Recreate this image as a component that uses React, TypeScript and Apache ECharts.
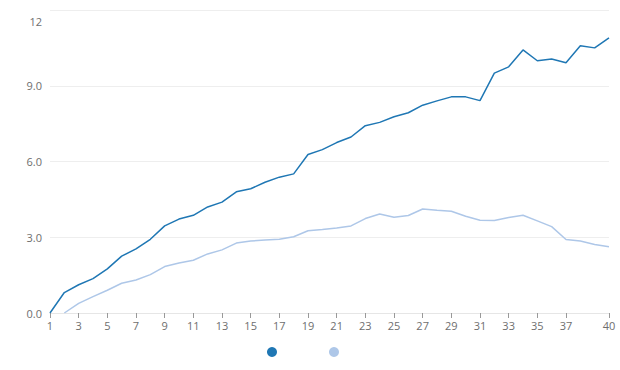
import React, { useEffect, useRef } from "react";
import * as echarts from "echarts";

const categories = [
  "1", "2", "3", "4", "5", "6", "7", "8", "9", "10",
  "11", "12", "13", "14", "15", "16", "17", "18", "19", "20",
  "21", "22", "23", "24", "25", "26", "27", "28", "29", "30",
  "31", "32", "33", "34", "35", "36", "37", "38", "39", "40",
];

const seriesA = [
  0, 0.81, 1.12, 1.36, 1.75, 2.25, 2.54, 2.92, 3.45, 3.72,
  3.87, 4.2, 4.39, 4.8, 4.92, 5.18, 5.38, 5.51, 6.28, 6.47,
  6.75, 6.97, 7.42, 7.55, 7.77, 7.93, 8.23, 8.4, 8.56, 8.56,
  8.41, 9.5, 9.75, 10.42, 9.99, 10.06, 9.91, 10.58, 10.5, 10.9,
];

const seriesB = [
  null, 0, 0.38, 0.65, 0.9, 1.18, 1.31, 1.52, 1.84, 1.98,
  2.09, 2.34, 2.5, 2.77, 2.85, 2.89, 2.92, 3.02, 3.26, 3.31,
  3.37, 3.45, 3.74, 3.92, 3.79, 3.86, 4.12, 4.07, 4.03, 3.83,
  3.67, 3.66, 3.78, 3.87, 3.65, 3.42, 2.91, 2.85, 2.71, 2.62,
];

const seriesNames = ["Series 1", "Series 2"];
const colors = ["#1f77b4", "#aec7e8"];

const FONT = "'Open Sans', sans-serif";
const TEXT = "#6e6e6e";

export default function App() {
  const ref = useRef<HTMLDivElement>(null);
  useEffect(() => {
    if (!ref.current) return;
    const chart = echarts.init(ref.current, undefined, { renderer: "svg" });
    const showIdx = (i: number) => (i % 2 === 0 && i !== 38) || i === 39;
    chart.setOption({
      animation: false,
      textStyle: { fontFamily: FONT },
      grid: {
        left: 50,
        right: 11,
        top: 10,
        bottom: 57,
        containLabel: false,
        outerBoundsMode: "none",
      },
      legend: {
        left: 262,
        top: 342,
        icon: "circle",
        itemWidth: 10,
        itemHeight: 10,
        itemGap: 52,
        formatter: () => "",
        data: seriesNames,
      },
      xAxis: {
        type: "category",
        data: categories,
        boundaryGap: false,
        axisLine: { show: true, lineStyle: { color: "#e6e6e6" } },
        axisTick: {
          show: true,
          interval: showIdx,
          length: 5,
          lineStyle: { color: "#999" },
        },
        axisLabel: {
          interval: showIdx,
          color: TEXT,
          fontSize: 11,
          fontFamily: FONT,
          margin: 7,
        },
        splitLine: { show: false },
      },
      yAxis: {
        type: "value",
        min: 0,
        max: 12,
        interval: 3,
        axisLine: { show: false },
        axisTick: { show: false },
        axisLabel: {
          color: TEXT,
          fontSize: 11,
          fontFamily: FONT,
          margin: 8,
          formatter: (v: number) => (v === 12 ? "\n\n12" : v.toFixed(1)),
        },
        splitLine: { show: true, lineStyle: { color: "#eeeeee" } },
      },
      series: [
        {
          name: seriesNames[0],
          type: "line",
          data: seriesA,
          symbol: "none",
          itemStyle: { color: colors[0] },
          lineStyle: { width: 1.5, color: colors[0] },
        },
        {
          name: seriesNames[1],
          type: "line",
          data: seriesB,
          symbol: "none",
          itemStyle: { color: colors[1] },
          lineStyle: { width: 1.5, color: colors[1] },
        },
      ],
    });
    return () => chart.dispose();
  }, []);
  return <div ref={ref} style={{ width: 620, height: 370, position: "absolute", left: 0, top: 0 }} />;
}
